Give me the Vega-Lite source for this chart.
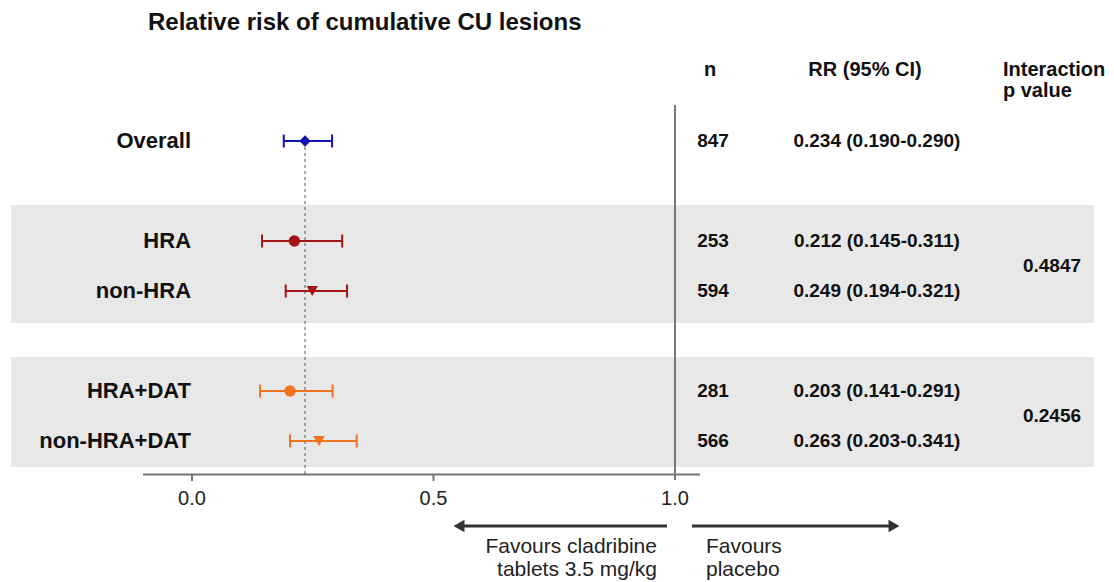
{
  "$schema": "https://vega.github.io/schema/vega-lite/v6.json",
  "width": 1114,
  "height": 542,
  "autosize": {"type": "none"},
  "padding": {"top": 40, "left": 0, "right": 0, "bottom": 0},
  "background": "white",
  "title": {"text": "Relative risk of cumulative CU lesions", "anchor": "start", "frame": "group", "dx": 148, "offset": 5, "fontSize": 24, "fontWeight": "bold", "font": "Liberation Sans", "color": "#111111"},
  "config": {"view": {"stroke": null}, "axis": {"disable": true}, "text": {"font": "Liberation Sans", "color": "#111111"}},
  "datasets": {
    "rows": [
      {"label": "Overall", "row": 1, "rr": 0.234, "lo": 0.190, "hi": 0.290, "n": 847, "ci": "0.234 (0.190-0.290)"},
      {"label": "HRA", "row": 3, "rr": 0.212, "lo": 0.145, "hi": 0.311, "n": 253, "ci": "0.212 (0.145-0.311)"},
      {"label": "non-HRA", "row": 4, "rr": 0.249, "lo": 0.194, "hi": 0.321, "n": 594, "ci": "0.249 (0.194-0.321)"},
      {"label": "HRA+DAT", "row": 6, "rr": 0.203, "lo": 0.141, "hi": 0.291, "n": 281, "ci": "0.203 (0.141-0.291)"},
      {"label": "non-HRA+DAT", "row": 7, "rr": 0.263, "lo": 0.203, "hi": 0.341, "n": 566, "ci": "0.263 (0.203-0.341)"}
    ],
    "pvals": [
      {"subgroup": "HRA vs non-HRA", "row": 3.5, "p": "0.4847"},
      {"subgroup": "HRA+DAT vs non-HRA+DAT", "row": 6.5, "p": "0.2456"}
    ],
    "ticks": [
      {"value": 0, "label": "0.0"},
      {"value": 0.5, "label": "0.5"},
      {"value": 1, "label": "1.0"}
    ],
    "one": [{}]
  },
  "layer": [
    {
      "data": {"name": "one"},
      "mark": {"type": "rect", "color": "#e8e8e8"},
      "encoding": {
        "x": {"datum": -0.3747, "scale": {"domain": [-0.3975, 1.9089], "nice": false, "zero": false}},
        "x2": {"datum": 1.8675},
        "y": {"datum": 2.28, "scale": {"domain": [-1.02, 9.82], "reverse": true, "nice": false, "zero": false}},
        "y2": {"datum": 4.64}
      }
    },
    {
      "data": {"name": "one"},
      "mark": {"type": "rect", "color": "#e8e8e8"},
      "encoding": {
        "x": {"datum": -0.3747, "scale": {"domain": [-0.3975, 1.9089], "nice": false, "zero": false}},
        "x2": {"datum": 1.8675},
        "y": {"datum": 5.32, "scale": {"domain": [-1.02, 9.82], "reverse": true, "nice": false, "zero": false}},
        "y2": {"datum": 7.52}
      }
    },
    {
      "data": {"name": "one"},
      "mark": {"type": "rule", "color": "#777777", "strokeWidth": 2},
      "encoding": {
        "x": {"datum": 1, "scale": {"domain": [-0.3975, 1.9089], "nice": false, "zero": false}},
        "y": {"datum": 0.28, "scale": {"domain": [-1.02, 9.82], "reverse": true, "nice": false, "zero": false}},
        "y2": {"datum": 7.78}
      }
    },
    {
      "data": {"name": "one"},
      "mark": {"type": "rule", "color": "#777777", "strokeWidth": 2},
      "encoding": {
        "x": {"datum": -0.1014, "scale": {"domain": [-0.3975, 1.9089], "nice": false, "zero": false}},
        "x2": {"datum": 1.0518},
        "y": {"datum": 7.67, "scale": {"domain": [-1.02, 9.82], "reverse": true, "nice": false, "zero": false}}
      }
    },
    {
      "data": {"name": "ticks"},
      "transform": [{"filter": "datum.value < 1"}],
      "mark": {"type": "rule", "color": "#777777", "strokeWidth": 2},
      "encoding": {
        "x": {"field": "value", "type": "quantitative", "scale": {"domain": [-0.3975, 1.9089], "nice": false, "zero": false}},
        "y": {"datum": 7.67, "scale": {"domain": [-1.02, 9.82], "reverse": true, "nice": false, "zero": false}},
        "y2": {"datum": 7.8}
      }
    },
    {
      "data": {"name": "ticks"},
      "mark": {"type": "text", "fontSize": 20, "color": "#222222", "align": "center", "baseline": "middle"},
      "encoding": {
        "x": {"field": "value", "type": "quantitative", "scale": {"domain": [-0.3975, 1.9089], "nice": false, "zero": false}},
        "y": {"datum": 8.16, "scale": {"domain": [-1.02, 9.82], "reverse": true, "nice": false, "zero": false}},
        "text": {"field": "label"}
      }
    },
    {
      "data": {"name": "rows"},
      "transform": [{"filter": "datum.label == 'Overall'"}],
      "mark": {"type": "rule", "color": "#555555", "strokeWidth": 1, "strokeDash": [3, 3]},
      "encoding": {
        "x": {"field": "rr", "type": "quantitative", "scale": {"domain": [-0.3975, 1.9089], "nice": false, "zero": false}},
        "y": {"datum": 1, "scale": {"domain": [-1.02, 9.82], "reverse": true, "nice": false, "zero": false}},
        "y2": {"datum": 7.66}
      }
    },
    {
      "data": {"name": "one"},
      "mark": {"type": "rule", "color": "#333333", "strokeWidth": 3},
      "encoding": {
        "x": {"datum": 0.5528, "scale": {"domain": [-0.3975, 1.9089], "nice": false, "zero": false}},
        "x2": {"datum": 0.9834},
        "y": {"datum": 8.7, "scale": {"domain": [-1.02, 9.82], "reverse": true, "nice": false, "zero": false}}
      }
    },
    {
      "data": {"name": "one"},
      "mark": {"type": "rule", "color": "#333333", "strokeWidth": 3},
      "encoding": {
        "x": {"datum": 1.0352, "scale": {"domain": [-0.3975, 1.9089], "nice": false, "zero": false}},
        "x2": {"datum": 1.4534},
        "y": {"datum": 8.7, "scale": {"domain": [-1.02, 9.82], "reverse": true, "nice": false, "zero": false}}
      }
    },
    {
      "data": {"name": "one"},
      "mark": {"type": "point", "shape": "triangle-left", "filled": true, "color": "#333333", "size": 160, "opacity": 1},
      "encoding": {
        "x": {"datum": 0.5528, "scale": {"domain": [-0.3975, 1.9089], "nice": false, "zero": false}},
        "y": {"datum": 8.7, "scale": {"domain": [-1.02, 9.82], "reverse": true, "nice": false, "zero": false}}
      }
    },
    {
      "data": {"name": "one"},
      "mark": {"type": "point", "shape": "triangle-right", "filled": true, "color": "#333333", "size": 160, "opacity": 1},
      "encoding": {
        "x": {"datum": 1.4534, "scale": {"domain": [-0.3975, 1.9089], "nice": false, "zero": false}},
        "y": {"datum": 8.7, "scale": {"domain": [-1.02, 9.82], "reverse": true, "nice": false, "zero": false}}
      }
    },
    {
      "data": {"name": "one"},
      "mark": {"type": "text", "fontSize": 21, "color": "#222222", "align": "right", "baseline": "top", "lineHeight": 23, "text": ["Favours cladribine", "tablets 3.5 mg/kg"]},
      "encoding": {
        "x": {"datum": 0.9627, "scale": {"domain": [-0.3975, 1.9089], "nice": false, "zero": false}},
        "y": {"datum": 8.89, "scale": {"domain": [-1.02, 9.82], "reverse": true, "nice": false, "zero": false}}
      }
    },
    {
      "data": {"name": "one"},
      "mark": {"type": "text", "fontSize": 21, "color": "#222222", "align": "left", "baseline": "top", "lineHeight": 23, "text": ["Favours", "placebo"]},
      "encoding": {
        "x": {"datum": 1.0642, "scale": {"domain": [-0.3975, 1.9089], "nice": false, "zero": false}},
        "y": {"datum": 8.89, "scale": {"domain": [-1.02, 9.82], "reverse": true, "nice": false, "zero": false}}
      }
    },
    {
      "data": {"name": "rows"},
      "mark": {"type": "rule", "strokeWidth": 2},
      "encoding": {
        "x": {"field": "lo", "type": "quantitative", "scale": {"domain": [-0.3975, 1.9089], "nice": false, "zero": false}},
        "x2": {"field": "hi"},
        "y": {"field": "row", "type": "quantitative", "scale": {"domain": [-1.02, 9.82], "reverse": true, "nice": false, "zero": false}},
        "color": {"field": "label", "type": "nominal", "legend": null, "scale": {"domain": ["Overall", "HRA", "non-HRA", "HRA+DAT", "non-HRA+DAT"], "range": ["#1414b4", "#a31414", "#a31414", "#f2711f", "#f2711f"]}}
      }
    },
    {
      "data": {"name": "rows"},
      "mark": {"type": "tick", "orient": "vertical", "size": 13, "thickness": 2, "opacity": 1},
      "encoding": {
        "x": {"field": "lo", "type": "quantitative", "scale": {"domain": [-0.3975, 1.9089], "nice": false, "zero": false}},
        "y": {"field": "row", "type": "quantitative", "scale": {"domain": [-1.02, 9.82], "reverse": true, "nice": false, "zero": false}},
        "color": {"field": "label", "type": "nominal", "legend": null}
      }
    },
    {
      "data": {"name": "rows"},
      "mark": {"type": "tick", "orient": "vertical", "size": 13, "thickness": 2, "opacity": 1},
      "encoding": {
        "x": {"field": "hi", "type": "quantitative", "scale": {"domain": [-0.3975, 1.9089], "nice": false, "zero": false}},
        "y": {"field": "row", "type": "quantitative", "scale": {"domain": [-1.02, 9.82], "reverse": true, "nice": false, "zero": false}},
        "color": {"field": "label", "type": "nominal", "legend": null}
      }
    },
    {
      "data": {"name": "rows"},
      "mark": {"type": "point", "filled": true, "opacity": 1, "size": 130},
      "encoding": {
        "x": {"field": "rr", "type": "quantitative", "scale": {"domain": [-0.3975, 1.9089], "nice": false, "zero": false}},
        "y": {"field": "row", "type": "quantitative", "scale": {"domain": [-1.02, 9.82], "reverse": true, "nice": false, "zero": false}},
        "color": {"field": "label", "type": "nominal", "legend": null},
        "shape": {"field": "label", "type": "nominal", "legend": null, "scale": {"domain": ["Overall", "HRA", "non-HRA", "HRA+DAT", "non-HRA+DAT"], "range": ["diamond", "circle", "triangle-down", "circle", "triangle-down"]}}
      }
    },
    {
      "data": {"name": "rows"},
      "mark": {"type": "text", "fontSize": 22, "fontWeight": "bold", "align": "right", "baseline": "middle"},
      "encoding": {
        "x": {"datum": -0.002, "scale": {"domain": [-0.3975, 1.9089], "nice": false, "zero": false}},
        "y": {"field": "row", "type": "quantitative", "scale": {"domain": [-1.02, 9.82], "reverse": true, "nice": false, "zero": false}},
        "text": {"field": "label"}
      }
    },
    {
      "data": {"name": "rows"},
      "mark": {"type": "text", "fontSize": 19, "fontWeight": "bold", "align": "center", "baseline": "middle"},
      "encoding": {
        "x": {"datum": 1.0787, "scale": {"domain": [-0.3975, 1.9089], "nice": false, "zero": false}},
        "y": {"field": "row", "type": "quantitative", "scale": {"domain": [-1.02, 9.82], "reverse": true, "nice": false, "zero": false}},
        "text": {"field": "n"}
      }
    },
    {
      "data": {"name": "rows"},
      "mark": {"type": "text", "fontSize": 19, "fontWeight": "bold", "align": "center", "baseline": "middle"},
      "encoding": {
        "x": {"datum": 1.418, "scale": {"domain": [-0.3975, 1.9089], "nice": false, "zero": false}},
        "y": {"field": "row", "type": "quantitative", "scale": {"domain": [-1.02, 9.82], "reverse": true, "nice": false, "zero": false}},
        "text": {"field": "ci"}
      }
    },
    {
      "data": {"name": "pvals"},
      "mark": {"type": "text", "fontSize": 19, "fontWeight": "bold", "align": "center", "baseline": "middle"},
      "encoding": {
        "x": {"datum": 1.7805, "scale": {"domain": [-0.3975, 1.9089], "nice": false, "zero": false}},
        "y": {"field": "row", "type": "quantitative", "scale": {"domain": [-1.02, 9.82], "reverse": true, "nice": false, "zero": false}},
        "text": {"field": "p"}
      }
    },
    {
      "data": {"name": "one"},
      "mark": {"type": "text", "fontSize": 20, "fontWeight": "bold", "align": "center", "baseline": "middle", "text": "n"},
      "encoding": {
        "x": {"datum": 1.0725, "scale": {"domain": [-0.3975, 1.9089], "nice": false, "zero": false}},
        "y": {"datum": -0.42, "scale": {"domain": [-1.02, 9.82], "reverse": true, "nice": false, "zero": false}}
      }
    },
    {
      "data": {"name": "one"},
      "mark": {"type": "text", "fontSize": 20, "fontWeight": "bold", "align": "center", "baseline": "middle", "text": "RR (95% CI)"},
      "encoding": {
        "x": {"datum": 1.3934, "scale": {"domain": [-0.3975, 1.9089], "nice": false, "zero": false}},
        "y": {"datum": -0.42, "scale": {"domain": [-1.02, 9.82], "reverse": true, "nice": false, "zero": false}}
      }
    },
    {
      "data": {"name": "one"},
      "mark": {"type": "text", "fontSize": 20, "fontWeight": "bold", "align": "left", "baseline": "middle", "text": "Interaction"},
      "encoding": {
        "x": {"datum": 1.679, "scale": {"domain": [-0.3975, 1.9089], "nice": false, "zero": false}},
        "y": {"datum": -0.42, "scale": {"domain": [-1.02, 9.82], "reverse": true, "nice": false, "zero": false}}
      }
    },
    {
      "data": {"name": "one"},
      "mark": {"type": "text", "fontSize": 20, "fontWeight": "bold", "align": "left", "baseline": "middle", "text": "p value"},
      "encoding": {
        "x": {"datum": 1.679, "scale": {"domain": [-0.3975, 1.9089], "nice": false, "zero": false}},
        "y": {"datum": 0.0, "scale": {"domain": [-1.02, 9.82], "reverse": true, "nice": false, "zero": false}}
      }
    }
  ]
}
